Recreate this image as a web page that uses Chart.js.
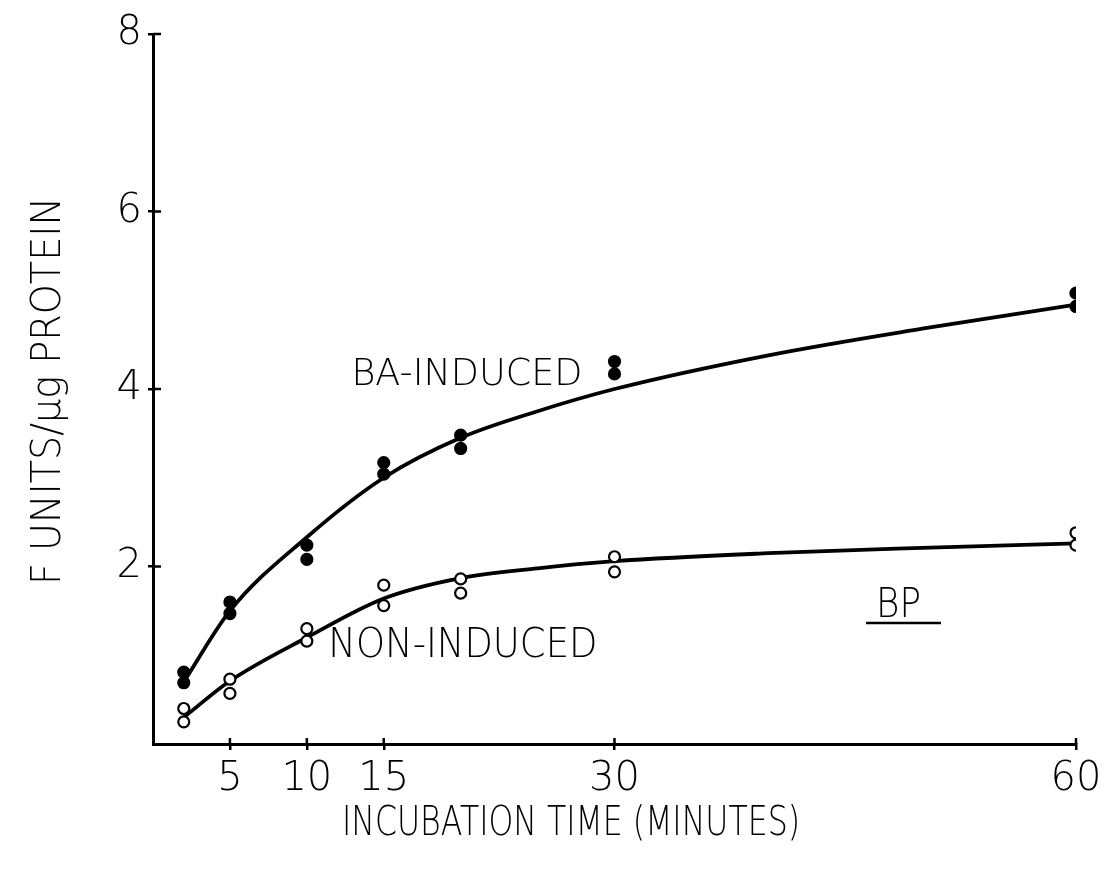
<!DOCTYPE html>
<html lang="en">
<head>
    <meta charset="UTF-8">
    <title>BP incubation time</title>
    <script src="https://cdn.jsdelivr.net/npm/chart.js"></script>
    <style>
        * {
            margin: 0;
            padding: 0;
            box-sizing: border-box;
        }
        body {
            background: #fff;
        }
        .chart-box {
            width: 1114px;
            height: 881px;
        }
    </style>
</head>
<body>
    <div class="chart-box">
        <canvas id="bpChart"></canvas>
    </div>
<script>
    // incubation times (minutes) of the duplicate measurements
    const times = [2, 5, 10, 15, 20, 30, 60];
    // BA-induced duplicates (filled dots)
    const baInducedA = [0.81, 1.60, 2.24, 3.17, 3.48, 4.31, 5.08];
    const baInducedB = [0.69, 1.47, 2.08, 3.04, 3.33, 4.17, 4.93];
    // non-induced duplicates (open dots)
    const nonInducedA = [0.40, 0.73, 1.30, 1.79, 1.86, 2.11, 2.38];
    const nonInducedB = [0.25, 0.57, 1.16, 1.56, 1.70, 1.94, 2.24];
    // hand-fitted curves
    const curveTimes = [2, 5, 10, 15, 20, 25, 30, 40, 50, 60];
    const baCurve = [0.70, 1.50, 2.33, 3.00, 3.45, 3.75, 4.00, 4.38, 4.68, 4.95];
    const nonCurve = [0.30, 0.71, 1.20, 1.64, 1.87, 1.98, 2.06, 2.15, 2.21, 2.26];
    // axis ticks
    const xTicks = [5, 10, 15, 30, 60];
    const yTicks = [2, 4, 6, 8];

    const FONT = '"DejaVu Sans", sans-serif';

    const pairs = (xs, ys) => xs.map((x, i) => ({ x: x, y: ys[i] }));

    // text drawn straight on the canvas, squeezed to a given width like stencil lettering
    const notes = [
        { text: 'BA-INDUCED', x: 12.9, y: 4.2, width: 231, size: 38 },
        { text: 'NON-INDUCED', x: 11.4, y: 1.15, width: 269, size: 40 },
        { text: 'BP', x: 47.0, y: 1.59, width: 45, size: 40, underline: true }
    ];

    function fittedText(ctx, text, x, y, width, size, angle) {
        ctx.save();
        ctx.translate(x, y);
        if (angle) ctx.rotate(angle);
        ctx.font = '200 ' + size + 'px ' + FONT;
        const w = ctx.measureText(text).width;
        ctx.scale(width / w, 1);
        ctx.textAlign = 'left';
        ctx.textBaseline = 'alphabetic';
        ctx.fillStyle = '#000';
        ctx.fillText(text, 0, size * 0.365);
        ctx.restore();
    }

    const lettering = {
        id: 'lettering',
        afterDraw(chart) {
            const ctx = chart.ctx;
            const xs = chart.scales.x, ys = chart.scales.y;
            const area = chart.chartArea;

            // tick marks cross the axes
            ctx.save();
            ctx.strokeStyle = '#000';
            ctx.lineWidth = 2.5;
            ctx.beginPath();
            xTicks.forEach(t => {
                const px = xs.getPixelForValue(t);
                ctx.moveTo(px, area.bottom);
                ctx.lineTo(px, area.bottom - 6);
            });
            yTicks.forEach(t => {
                const py = ys.getPixelForValue(t);
                ctx.moveTo(area.left, py);
                ctx.lineTo(area.left + 8, py);
            });
            ctx.stroke();
            ctx.restore();

            notes.forEach(n => {
                const px = xs.getPixelForValue(n.x);
                const py = ys.getPixelForValue(n.y);
                fittedText(ctx, n.text, px, py, n.width, n.size, 0);
                if (n.underline) {
                    ctx.save();
                    ctx.strokeStyle = '#000';
                    ctx.lineWidth = 2.5;
                    ctx.beginPath();
                    ctx.moveTo(px - 10, py + 20);
                    ctx.lineTo(px + n.width + 20, py + 20);
                    ctx.stroke();
                    ctx.restore();
                }
            });

            // axis titles
            fittedText(ctx, 'INCUBATION TIME (MINUTES)', 342, 820, 458, 41, 0);
            fittedText(ctx, 'F UNITS/\u00b5g PROTEIN', 45, 585, 388, 40, -Math.PI / 2);
        }
    };

    const dots = (data, filled) => ({
        data: data,
        showLine: false,
        pointStyle: 'circle',
        pointRadius: 5.5,
        pointBorderWidth: 2.2,
        pointBorderColor: '#000',
        pointBackgroundColor: filled ? '#000' : '#fff',
        order: 0
    });

    const curve = data => ({
        data: data,
        borderColor: '#000',
        borderWidth: 3.8,
        pointRadius: 0,
        cubicInterpolationMode: 'monotone',
        fill: false,
        order: 1
    });

    new Chart(document.getElementById('bpChart'), {
        type: 'line',
        data: {
            datasets: [
                curve(pairs(curveTimes, baCurve)),
                curve(pairs(curveTimes, nonCurve)),
                dots(pairs(times, baInducedA), true),
                dots(pairs(times, baInducedB), true),
                dots(pairs(times, nonInducedA), false),
                dots(pairs(times, nonInducedB), false)
            ]
        },
        options: {
            responsive: true,
            maintainAspectRatio: false,
            animation: false,
            layout: { padding: { top: 34, right: 38, bottom: 0, left: 0 } },
            plugins: {
                legend: { display: false },
                tooltip: { enabled: false }
            },
            scales: {
                x: {
                    type: 'linear',
                    min: 0,
                    max: 60,
                    afterBuildTicks: s => { s.ticks = xTicks.map(v => ({ value: v })); },
                    afterFit: s => { s.height = 137; },
                    border: { color: '#000', width: 3 },
                    grid: { drawOnChartArea: false, color: '#000', lineWidth: 2.5, tickLength: 6 },
                    ticks: {
                        color: '#000',
                        padding: 6,
                        maxRotation: 0,
                        font: { family: FONT, size: 40, weight: 200 }
                    }
                },
                y: {
                    min: 0,
                    max: 8,
                    afterBuildTicks: s => { s.ticks = yTicks.map(v => ({ value: v })); },
                    afterFit: s => { s.width = 153; },
                    border: { color: '#000', width: 3 },
                    grid: { drawOnChartArea: false, color: '#000', lineWidth: 2.5, tickLength: 5 },
                    ticks: {
                        color: '#000',
                        padding: 6,
                        font: { family: FONT, size: 40, weight: 200 }
                    }
                }
            }
        },
        plugins: [lettering]
    });
</script>
</body>
</html>
